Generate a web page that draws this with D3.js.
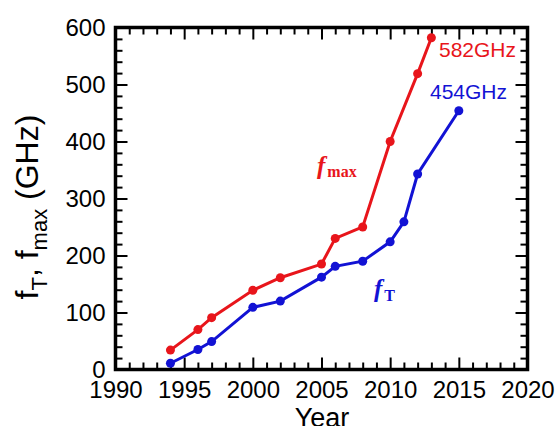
<!DOCTYPE html>
<html>
<head>
<meta charset="utf-8">
<script src="https://cdn.jsdelivr.net/npm/d3@7"></script>
<style>
  body { margin: 0; background: #fff; }
  svg { display: block; }
  .axis text { font-family: "Liberation Sans", Arial, sans-serif; font-size: 24px; fill: #000; }
  .axis line { stroke: #000; stroke-width: 2; }
  .axis path { display: none; }
</style>
</head>
<body>
<script>
// data
const ftYears = [1994, 1996, 1997, 2000, 2002, 2005, 2006, 2008, 2010, 2011, 2012, 2015];
const ftValues = [11, 35, 49, 109, 120, 162, 181, 190, 224, 259, 343, 454];
const fmaxYears = [1994, 1996, 1997, 2000, 2002, 2005, 2006, 2008, 2010, 2012, 2013];
const fmaxValues = [34, 70, 91, 139, 161, 185, 230, 250, 400, 519, 582];
const xTicks = [1990, 1995, 2000, 2005, 2010, 2015, 2020];
const yTicks = [0, 100, 200, 300, 400, 500, 600];

const red = '#e8151b';
const blue = '#1212d4';

const W = 558, H = 426;
const x = d3.scaleLinear().domain([1990, 2020]).range([115.5, 527.5]);
const y = d3.scaleLinear().domain([0, 600]).range([369.5, 27.5]);

const svg = d3.select('body').append('svg').attr('width', W).attr('height', H);

const minorX = d3.range(1990, 2021, 1).filter((v) => v % 5);
const minorY = d3.range(0, 601, 20).filter((v) => v % 100);

// inward ticks on all four sides
const addAxis = (axisFn, scale, major, minor, tr, labels) => {
	svg.append('g').attr('class', 'axis').attr('transform', tr)
		.call(axisFn(scale).tickValues(minor).tickSize(-7).tickFormat(''));
	return svg.append('g').attr('class', 'axis').attr('transform', tr)
		.call(axisFn(scale).tickValues(major).tickSize(-12)
			.tickFormat(labels ? d3.format('d') : ''));
};
const gx = addAxis(d3.axisBottom, x, xTicks, minorX, `translate(0,${y(0)})`, true);
gx.selectAll('text').attr('y', 398 - y(0)).attr('dy', null);
addAxis(d3.axisTop, x, xTicks, minorX, `translate(0,${y(600)})`, false);
const gy = addAxis(d3.axisLeft, y, yTicks, minorY, `translate(${x(1990)},0)`, true);
gy.selectAll('text').attr('x', -10);
addAxis(d3.axisRight, y, yTicks, minorY, `translate(${x(2020)},0)`, false);

svg.append('rect')
	.attr('x', x(1990)).attr('y', y(600))
	.attr('width', x(2020) - x(1990)).attr('height', y(0) - y(600))
	.attr('fill', 'none').attr('stroke', '#000').attr('stroke-width', 3.5);

// series
const line = d3.line().x((d) => x(d[0])).y((d) => y(d[1]));
const drawSeries = (years, values, color) => {
	const pts = years.map((yr, i) => [yr, values[i]]);
	svg.append('path').datum(pts).attr('d', line)
		.attr('fill', 'none').attr('stroke', color).attr('stroke-width', 3);
	svg.append('g').selectAll('circle').data(pts).join('circle')
		.attr('cx', (d) => x(d[0])).attr('cy', (d) => y(d[1])).attr('r', 4.5)
		.attr('fill', color);
};
drawSeries(fmaxYears, fmaxValues, red);
drawSeries(ftYears, ftValues, blue);

// annotations
const sans = '"Liberation Sans", Arial, sans-serif';
const serif = '"Liberation Serif", "Times New Roman", serif';
svg.append('text').attr('x', 439).attr('y', 57).attr('font-family', sans)
	.attr('font-size', 21).attr('fill', red).text('582GHz');
svg.append('text').attr('x', 430).attr('y', 99).attr('font-family', sans)
	.attr('font-size', 21).attr('fill', blue).text('454GHz');

const lblMax = svg.append('text').attr('x', 317).attr('y', 174)
	.attr('font-family', serif).attr('font-weight', 'bold').attr('fill', red);
lblMax.append('tspan').attr('font-style', 'italic').attr('font-size', 25).text('f');
lblMax.append('tspan').attr('font-size', 16).attr('dy', 3).attr('dx', 2).text('max');

const lblT = svg.append('text').attr('x', 374).attr('y', 297)
	.attr('font-family', serif).attr('font-weight', 'bold').attr('fill', blue);
lblT.append('tspan').attr('font-style', 'italic').attr('font-size', 25).text('f');
lblT.append('tspan').attr('font-size', 16).attr('dy', 4).attr('dx', 2).text('T');

// axis titles
svg.append('text').attr('x', 322).attr('y', 427).attr('text-anchor', 'middle')
	.attr('font-family', sans).attr('font-size', 27).text('Year');

const yt = svg.append('text').attr('transform', 'translate(38,207) rotate(-90)')
	.attr('text-anchor', 'middle').attr('font-family', sans).attr('font-size', 32);
yt.append('tspan').text('f');
yt.append('tspan').attr('font-size', 22).attr('dy', 9).text('T');
yt.append('tspan').attr('dy', -9).text(', f');
yt.append('tspan').attr('font-size', 22).attr('dy', 9).text('max');
yt.append('tspan').attr('dy', -9).text(' (GHz)');
</script>
</body>
</html>
